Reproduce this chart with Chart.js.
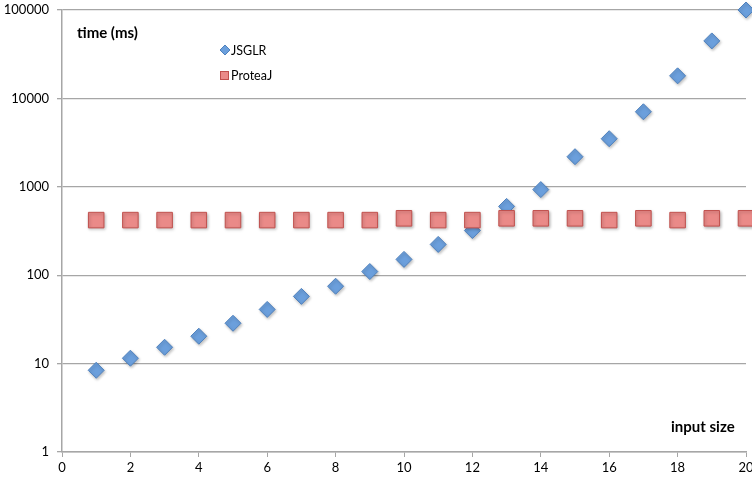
<!DOCTYPE html>
<html><head><meta charset="utf-8">
<script src="https://cdn.jsdelivr.net/npm/chart.js@4/dist/chart.umd.min.js"></script>
<style>html,body{margin:0;padding:0;background:#fff;overflow:hidden}#wrap{width:752px;height:480px;overflow:hidden;position:relative}#c{position:absolute;left:0;top:-2px}</style>
</head><body><div id="wrap"><canvas id="c" width="758" height="482"></canvas></div>
<script>
const inputSizes = [1,2,3,4,5,6,7,8,9,10,11,12,13,14,15,16,17,18,19,20];
const jsglrTimes = [8.4,11.5,15.3,20.4,28.6,41,57.6,75,110,151,223,320,600,930,2190,3500,7060,18000,44700,100000];
const proteajTimes = [420,420,420,420,420,420,420,420,420,440,420,420,440,440,440,420,440,420,440,440];
const yTickValues = [1,10,100,1000,10000,100000];
const xTickValues = [0,2,4,6,8,10,12,14,16,18,20];
const seriesNames = ['JSGLR','ProteaJ'];
const yAxisTitle = 'time (ms)';
const xAxisTitle = 'input size';

const FONT = 'Lato, "Open Sans", sans-serif';
const diamondFill = '#6b9fdc', diamondBorder = '#4f81bd';
const squareFill = '#ea8a88', squareBorder = '#c0504d';
const OY = 2; // canvas offset (canvas is shifted up by 2px)

const toPts = (xs, ys) => xs.map((x, i) => ({x, y: ys[i]}));

const overlay = {
  id: 'overlay',
  beforeDatasetsDraw(chart) {
    const ctx = chart.ctx; ctx.save();
    ctx.shadowColor = 'rgba(0,0,0,0.25)'; ctx.shadowBlur = 3; ctx.shadowOffsetX = 1; ctx.shadowOffsetY = 1.5;
  },
  afterDatasetsDraw(chart) { chart.ctx.restore(); },
  afterDraw(chart) {
    const ctx = chart.ctx; ctx.save();
    ctx.translate(0, OY);
    ctx.fillStyle = '#000';
    ctx.font = 'bold 15px ' + FONT;
    ctx.textBaseline = 'middle'; ctx.textAlign = 'left';
    ctx.fillText(yAxisTitle, 77, 33);
    ctx.fillText(xAxisTitle, 671, 427);
    ctx.font = '12.5px ' + FONT;
    ctx.lineWidth = 1;
    ctx.beginPath(); ctx.moveTo(225, 45); ctx.lineTo(230, 50); ctx.lineTo(225, 55); ctx.lineTo(220, 50); ctx.closePath();
    ctx.fillStyle = diamondFill; ctx.fill(); ctx.strokeStyle = diamondBorder; ctx.stroke();
    ctx.fillStyle = '#000'; ctx.fillText(seriesNames[0], 231, 51);
    ctx.fillStyle = squareFill; ctx.fillRect(220, 71, 9, 9); ctx.strokeStyle = squareBorder; ctx.strokeRect(220.5, 71.5, 8, 8);
    ctx.fillStyle = '#000'; ctx.fillText(seriesNames[1], 231, 76);
    ctx.restore();
  }
};

new Chart(document.getElementById('c'), {
  type: 'scatter',
  data: {
    datasets: [
      { label: seriesNames[1], data: toPts(inputSizes, proteajTimes), pointStyle: 'rect', pointRadius: 11, pointHoverRadius: 11,
        backgroundColor: squareFill, borderColor: squareBorder, borderWidth: 1, clip: false },
      { label: seriesNames[0], data: toPts(inputSizes, jsglrTimes), pointStyle: 'rectRot', pointRadius: 8, pointHoverRadius: 8,
        backgroundColor: diamondFill, borderColor: diamondBorder, borderWidth: 1, clip: false }
    ]
  },
  options: {
    responsive: false, animation: false, events: [],
    layout: { padding: { top: 7, right: 0, left: 0, bottom: 0 } },
    plugins: { legend: { display: false }, tooltip: { enabled: false } },
    scales: {
      x: {
        type: 'linear', min: 0, max: 20,
        afterBuildTicks: s => { s.ticks = xTickValues.map(v => ({value: v})); },
        afterFit: s => { s.height = 28; s.paddingLeft = 0; s.paddingRight = 0; },
        grid: { drawOnChartArea: false, drawTicks: true, tickLength: 5, color: '#a6a6a6', lineWidth: 1 },
        border: { color: '#a6a6a6', width: 1.5 },
        ticks: { color: '#000', font: { family: FONT, size: 13 }, padding: 3, maxRotation: 0 }
      },
      y: {
        type: 'logarithmic', min: 1, max: 100000,
        afterBuildTicks: s => { s.ticks = yTickValues.map(v => ({value: v, major: true})); },
        afterFit: s => { s.width = 62; s.paddingTop = 0; s.paddingBottom = 0; },
        grid: { drawOnChartArea: true, drawTicks: true, tickLength: 5, color: '#a6a6a6', lineWidth: 1.3 },
        border: { color: '#a6a6a6', width: 1.5 },
        ticks: { color: '#000', font: { family: FONT, size: 13 }, padding: 8, callback: v => String(v) }
      }
    }
  },
  plugins: [overlay]
});
</script></body></html>
